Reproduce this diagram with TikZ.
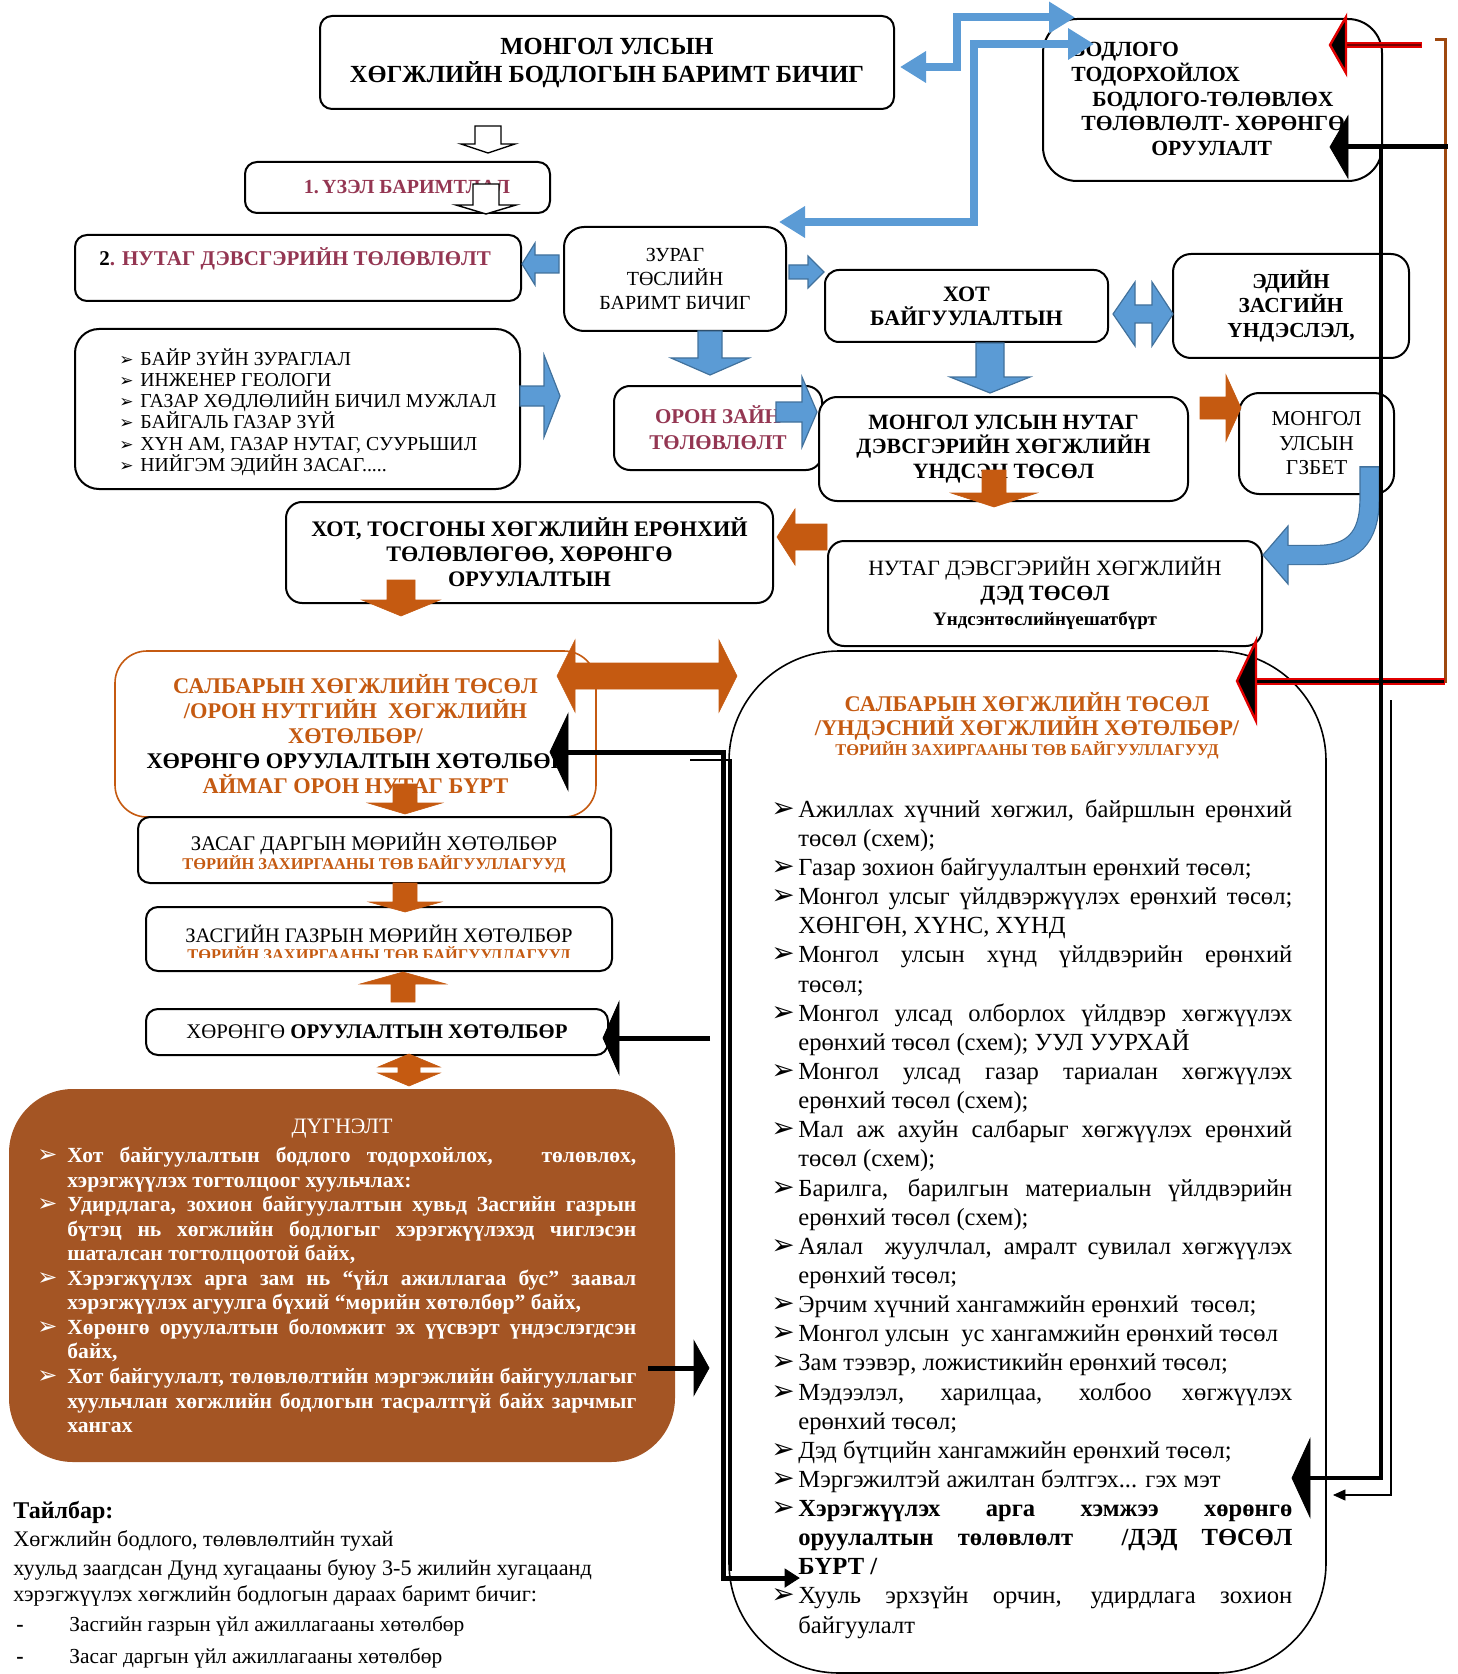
\documentclass[tikz,border=0pt]{standalone}
\usepackage{fontspec}
\setmainfont{Liberation Serif}
\newfontfamily\symfont{DejaVu Sans}
\usetikzlibrary{arrows.meta}
\definecolor{maroon}{RGB}{148,54,82}
\definecolor{orng}{RGB}{197,90,17}
\definecolor{brownfill}{RGB}{164,85,36}
\definecolor{bluefill}{RGB}{91,155,213}
\definecolor{blueline}{RGB}{65,113,156}
\definecolor{redc}{RGB}{225,0,0}
\definecolor{bracketc}{RGB}{158,72,14}
\newcommand{\fs}[2]{\fontsize{#1}{#2}\selectfont}
% block arrows: style, tail, base, tip, axis, shaft half, head half
\newcommand{\harr}[7]{\draw[#1] (#2,#5-#6) -- (#3,#5-#6) -- (#3,#5-#7) -- (#4,#5) -- (#3,#5+#7) -- (#3,#5+#6) -- (#2,#5+#6) -- cycle;}
\newcommand{\varr}[7]{\draw[#1] (#5-#6,#2) -- (#5-#6,#3) -- (#5-#7,#3) -- (#5,#4) -- (#5+#7,#3) -- (#5+#6,#3) -- (#5+#6,#2) -- cycle;}
\newcommand{\hdarr}[8]{\draw[#1] (#2,#6) -- (#3,#6-#8) -- (#3,#6-#7) -- (#4,#6-#7) -- (#4,#6-#8) -- (#5,#6) -- (#4,#6+#8) -- (#4,#6+#7) -- (#3,#6+#7) -- (#3,#6+#8) -- cycle;}
\newcommand{\vdarr}[8]{\draw[#1] (#6,#2) -- (#6-#8,#3) -- (#6-#7,#3) -- (#6-#7,#4) -- (#6-#8,#4) -- (#6,#5) -- (#6+#8,#4) -- (#6+#7,#4) -- (#6+#7,#3) -- (#6+#8,#3) -- cycle;}
\newcommand{\tiph}[5]{\filldraw[#1] (#2,#4) -- (#3,#4-#5) -- (#3,#4+#5) -- cycle;}
% bullets and lines
\newcommand{\lstB}{\makebox[10.5pt][l]{{\symfont\fontsize{8.5}{8.5}\selectfont ➢}}}
\newcommand{\bigB}{{\symfont\fontsize{14}{14}\selectfont ➢}}
\newcommand{\bigJ}[1]{\makebox[13.5pt][l]{\bigB}\makebox[247pt][s]{#1}}
\newcommand{\bigR}[1]{\makebox[13.5pt][l]{\bigB}#1}
\newcommand{\bigCJ}[1]{\hspace*{13.5pt}\makebox[247pt][s]{#1}}
\newcommand{\bigCR}[1]{\hspace*{13.5pt}#1}
\newcommand{\dugB}{{\symfont\mdseries\fontsize{12}{12}\selectfont ➢}}
\newcommand{\dugJ}[1]{\makebox[15pt][l]{\dugB}\makebox[284.5pt][s]{#1}}
\newcommand{\dugCJ}[1]{\hspace*{15pt}\makebox[284.5pt][s]{#1}}
\newcommand{\dugCR}[1]{\hspace*{15pt}#1}
\tikzset{
  box/.style={draw=black, line width=1pt, rounded corners=6pt, fill=white, inner sep=0pt, align=center},
  txt/.style={inner sep=0pt},
  blk/.style={fill=bluefill, draw=blueline, line width=0.6pt},
  org/.style={fill=orng, draw=orng, line width=0.3pt},
  wht/.style={fill=white, draw=black, line width=0.7pt},
  bluecon/.style={draw=bluefill, line width=4pt, {Triangle[length=13pt,width=15pt]}-{Triangle[length=13pt,width=15pt]}},
}
\begin{document}
\begin{tikzpicture}[x=0.5pt,y=-0.5pt]
\useasboundingbox (0,0) rectangle (1457,1674);

% ---------- boxes ----------
\node[box, minimum width=287pt, minimum height=46.5pt, font=\bfseries\fs{12.3}{14}] (top) at (607,62.5) {МОНГОЛ УЛСЫН\\ХӨГЖЛИЙН БОДЛОГЫН БАРИМТ БИЧИГ};

\node[box, rounded corners=17pt, minimum width=169.5pt, minimum height=81pt] (bodlogo) at (1212.5,100) {};
\node[txt, anchor=west, align=left, font=\bfseries\fs{10.8}{12.3}] (bodtxt) at (1071,99) {БОДЛОГО\\ТОДОРХОЙЛОХ\\\hspace*{10.5pt}БОДЛОГО-ТӨЛӨВЛӨХ\\\hspace*{5pt}ТӨЛӨВЛӨЛТ- ХӨРӨНГӨ\\\hspace*{40pt}ОРУУЛАЛТ};

\node[box, minimum width=152.5pt, minimum height=25.5pt, text=maroon, font=\bfseries\fs{10}{12}] (uzel) at (397.5,187.5) {\hspace*{9.5pt}1.\,ҮЗЭЛ БАРИМТЛАЛ};

\node[box, minimum width=223pt, minimum height=33pt] (nutag) at (298,268) {};
\node[txt, anchor=base west, font=\bfseries\fs{10.5}{12}] (nutagtxt) at (99,266) {2\textcolor{maroon}{. НУТАГ ДЭВСГЭРИЙН ТӨЛӨВЛӨЛТ}};

\node[box, rounded corners=10pt, minimum width=111pt, minimum height=52pt, font=\fs{10}{12}] (zurag) at (675,279) {ЗУРАГ\\ТӨСЛИЙН\\БАРИМТ БИЧИГ};

\node[box, rounded corners=12pt, minimum width=222.5pt, minimum height=80pt] (lst) at (297.5,409) {};
\node[txt, anchor=west, align=left, font=\fs{9.9}{10.65}] (lsttxt) at (119,412) {\lstB БАЙР ЗҮЙН ЗУРАГЛАЛ\\\lstB ИНЖЕНЕР ГЕОЛОГИ\\\lstB ГАЗАР ХӨДЛӨЛИЙН БИЧИЛ МУЖЛАЛ\\\lstB БАЙГАЛЬ ГАЗАР ЗҮЙ\\\lstB ХҮН АМ, ГАЗАР НУТАГ, СУУРЬШИЛ\\\lstB НИЙГЭМ ЭДИЙН ЗАСАГ.....};

\node[box, rounded corners=8pt, minimum width=104pt, minimum height=42pt, text=maroon, font=\bfseries\fs{10.5}{13}] (oron) at (718,428) {ОРОН ЗАЙН\\ТӨЛӨВЛӨЛТ};

\node[box, rounded corners=7pt, minimum width=141.5pt, minimum height=36pt, font=\bfseries\fs{11}{12}] (hot) at (966.5,306) {ХОТ\\БАЙГУУЛАЛТЫН};

\node[box, rounded corners=9pt, minimum width=118pt, minimum height=52pt, font=\bfseries\fs{10.7}{12.25}] (ediin) at (1291,306) {ЭДИЙН\\ЗАСГИЙН\\ҮНДЭСЛЭЛ,};

\node[box, rounded corners=9pt, minimum width=184.5pt, minimum height=52pt, font=\bfseries\fs{10.9}{12.25}] (undsen) at (1003.5,449) {МОНГОЛ УЛСЫН НУТАГ\\ДЭВСГЭРИЙН ХӨГЖЛИЙН\\ҮНДСЭН ТӨСӨЛ};

\node[box, rounded corners=10pt, minimum width=77.5pt, minimum height=50.5pt, font=\fs{10.6}{12.25}] (gzbet) at (1316.5,443.5) {МОНГОЛ\\УЛСЫН\\ГЗБЕТ};

\node[box, rounded corners=8pt, minimum width=217pt, minimum height=52.5pt, font=\fs{10.9}{12.5}] (ded) at (1045,593.5) {НУТАГ ДЭВСГЭРИЙН ХӨГЖЛИЙН\\\textbf{ДЭД ТӨСӨЛ}\\{\bfseries\fs{9.5}{12.5}Үндсэнтөслийнүешатбүрт}};

\node[box, rounded corners=8pt, minimum width=243.5pt, minimum height=50.5pt, font=\bfseries\fs{11.1}{12.5}] (tosgon) at (529.5,552.5) {ХОТ, ТОСГОНЫ ХӨГЖЛИЙН ЕРӨНХИЙ\\ТӨЛӨВЛӨГӨӨ, ХӨРӨНГӨ\\ОРУУЛАЛТЫН};

\node[box, draw=orng, line width=0.8pt, rounded corners=16pt, minimum width=240.5pt, minimum height=83pt, text=orng, font=\bfseries\fs{11.2}{12.5}] (salbar) at (355.5,734) {САЛБАРЫН ХӨГЖЛИЙН ТӨСӨЛ\\/ОРОН НУТГИЙН\ \ ХӨГЖЛИЙН\\ХӨТӨЛБӨР/\\\textcolor{black}{ХӨРӨНГӨ ОРУУЛАЛТЫН ХӨТӨЛБӨР}\\АЙМАГ ОРОН НУТАГ БҮРТ};

\node[box, minimum width=236.5pt, minimum height=33pt] (zasag) at (374.5,850) {};
\node[txt, anchor=base, font=\fs{10.4}{12}] (zasag1) at (374,850) {ЗАСАГ ДАРГЫН МӨРИЙН ХӨТӨЛБӨР};
\node[txt, anchor=base, text=orng, font=\bfseries\fs{8.2}{10}] (zasag2) at (374,869) {ТӨРИЙН ЗАХИРГААНЫ ТӨВ БАЙГУУЛЛАГУУД};

\node[box, minimum width=233pt, minimum height=32pt] (zasgiin) at (379,939) {};
\node[txt, anchor=base, font=\fs{10.3}{12}] (zasgiin1) at (379,942) {ЗАСГИЙН ГАЗРЫН МӨРИЙН ХӨТӨЛБӨР};
\begin{scope}
\clip (146,907) rectangle (612,957);
\node[txt, anchor=base, text=orng, font=\bfseries\fs{8.2}{10}] (zasgiin2) at (379,960) {ТӨРИЙН ЗАХИРГААНЫ ТӨВ БАЙГУУЛЛАГУУД};
\end{scope}

\node[box, minimum width=231pt, minimum height=23pt, font=\fs{10.4}{12}] (horongo) at (377,1032) {ХӨРӨНГӨ \textbf{ОРУУЛАЛТЫН ХӨТӨЛБӨР}};

% big right box
\node[draw=black, line width=0.8pt, rounded corners=55pt, minimum width=298.5pt, minimum height=511pt, inner sep=0pt] (big) at (1027.5,1162) {};
\node[txt, anchor=base, text=orng, font=\bfseries\fs{11.2}{12}] (bt1) at (1027,711) {САЛБАРЫН ХӨГЖЛИЙН ТӨСӨЛ};
\node[txt, anchor=base, text=orng, font=\bfseries\fs{11.2}{12}] (bt2) at (1027,735) {/ҮНДЭСНИЙ ХӨГЖЛИЙН ХӨТӨЛБӨР/};
\node[txt, anchor=base, text=orng, font=\bfseries\fs{8.2}{10}] (bt3) at (1027,755) {ТӨРИЙН ЗАХИРГААНЫ ТӨВ БАЙГУУЛЛАГУУД};
\node[txt, anchor=west, align=left, font=\fs{12.3}{14.57}] (biglist) at (771,1219) {%
\bigJ{Ажиллах хүчний хөгжил, байршлын ерөнхий}\\
\bigCR{төсөл (схем);}\\
\bigR{Газар зохион байгуулалтын ерөнхий төсөл;}\\
\bigJ{Монгол улсыг үйлдвэржүүлэх ерөнхий төсөл;}\\
\bigCR{ХӨНГӨН, ХҮНС, ХҮНД}\\
\bigJ{Монгол улсын хүнд үйлдвэрийн ерөнхий}\\
\bigCR{төсөл;}\\
\bigJ{Монгол улсад олборлох үйлдвэр хөгжүүлэх}\\
\bigCR{ерөнхий төсөл (схем); УУЛ УУРХАЙ}\\
\bigJ{Монгол улсад газар тариалан хөгжүүлэх}\\
\bigCR{ерөнхий төсөл (схем);}\\
\bigJ{Мал аж ахуйн салбарыг хөгжүүлэх ерөнхий}\\
\bigCR{төсөл (схем);}\\
\bigJ{Барилга, барилгын материалын үйлдвэрийн}\\
\bigCR{ерөнхий төсөл (схем);}\\
\bigJ{Аялал\ \ жуулчлал, амралт сувилал хөгжүүлэх}\\
\bigCR{ерөнхий төсөл;}\\
\bigR{Эрчим хүчний хангамжийн ерөнхий\ \ төсөл;}\\
\bigR{Монгол улсын\ \ ус хангамжийн ерөнхий төсөл}\\
\bigR{Зам тээвэр, ложистикийн ерөнхий төсөл;}\\
\bigJ{Мэдээлэл, харилцаа, холбоо хөгжүүлэх}\\
\bigCR{ерөнхий төсөл;}\\
\bigR{Дэд бүтцийн хангамжийн ерөнхий төсөл;}\\
\bigR{Мэргэжилтэй ажилтан бэлтгэх... гэх мэт}\\
\bigJ{\textbf{Хэрэгжүүлэх арга хэмжээ хөрөнгө}}\\
\bigCJ{\textbf{оруулалтын төлөвлөлт\ \ /ДЭД ТӨСӨЛ}}\\
\bigCR{\textbf{БҮРТ /}}\\
\bigJ{Хууль эрхзүйн орчин, удирдлага зохион}\\
\bigCR{байгуулалт}};

% brown conclusion box
\node[fill=brownfill, draw=none, rounded corners=32pt, minimum width=333pt, minimum height=186.5pt, inner sep=0pt] (dugnelt) at (342,1275.5) {};
\node[txt, text=white, font=\fs{11}{12}] (dugtitle) at (342,1129) {ДҮГНЭЛТ};
\node[txt, anchor=west, align=left, text=white, font=\bfseries\fs{10.8}{12.27}] (duglist) at (37,1290) {%
\dugJ{Хот байгуулалтын бодлого тодорхойлох,\ \ \ төлөвлөх,}\\
\dugCR{хэрэгжүүлэх тогтолцоог хуульчлах:}\\
\dugJ{Удирдлага, зохион байгуулалтын хувьд Засгийн газрын}\\
\dugCJ{бүтэц нь хөгжлийн бодлогыг хэрэгжүүлэхэд чиглэсэн}\\
\dugCR{шаталсан тогтолцоотой байх,}\\
\dugJ{Хэрэгжүүлэх арга зам нь “үйл ажиллагаа бус” заавал}\\
\dugCR{хэрэгжүүлэх агуулга бүхий “мөрийн хөтөлбөр” байх,}\\
\dugJ{Хөрөнгө оруулалтын боломжит эх үүсвэрт үндэслэгдсэн}\\
\dugCR{байх,}\\
\dugJ{Хот байгуулалт, төлөвлөлтийн мэргэжлийн байгууллагыг}\\
\dugCJ{хуульчлан хөгжлийн бодлогын тасралтгүй байх зарчмыг}\\
\dugCR{хангах}};

% legend
\node[txt, anchor=base west, font=\bfseries\fs{12}{14}] (leg0) at (13,1518) {Тайлбар:};
\node[txt, anchor=base west, font=\fs{11.1}{13}] (leg1) at (13,1546) {Хөгжлийн бодлого, төлөвлөлтийн тухай};
\node[txt, anchor=base west, font=\fs{11.1}{13}] (leg2) at (13,1575) {хуульд заагдсан Дунд хугацааны буюу 3-5 жилийн хугацаанд};
\node[txt, anchor=base west, font=\fs{11.1}{13}] (leg3) at (13,1601) {хэрэгжүүлэх хөгжлийн бодлогын дараах баримт бичиг:};
\node[txt, anchor=base west, font=\bfseries\fs{11}{13}] (legd1) at (16,1631) {-};
\node[txt, anchor=base west, font=\fs{10.7}{13}] (leg4) at (69,1631) {Засгийн газрын үйл ажиллагааны хөтөлбөр};
\node[txt, anchor=base west, font=\bfseries\fs{11}{13}] (legd2) at (16,1663) {-};
\node[txt, anchor=base west, font=\fs{10.7}{13}] (leg5) at (69,1663) {Засаг даргын үйл ажиллагааны хөтөлбөр};

% ---------- block arrows ----------
\varr{wht}{126}{144}{153}{488}{13}{27}
\varr{wht}{184}{205}{214}{486}{13}{30}

\harr{blk}{559}{535}{522}{264}{9}{21}
\harr{blk}{789}{808}{824}{272}{7}{16}
\varr{blk}{331}{358}{375}{710}{12}{39}
\harr{blk}{520}{544}{560}{396}{10}{41}
\harr{blk}{776}{802}{817}{412}{10}{35}
\varr{blk}{343}{377}{393}{990}{14}{40}
\hdarr{blk}{1113}{1135}{1152}{1173}{314}{9}{32}

% curved blue arrow
\draw[blueline, line width=10.2pt] (1369.5,466) -- (1369.5,500) .. controls (1369.5,538) and (1352,555) .. (1317,555) -- (1288,555);
\tiph{blk}{1263}{1288}{555}{29}
\draw[bluefill, line width=9pt] (1369.5,467.5) -- (1369.5,500) .. controls (1369.5,538) and (1352,555) .. (1317,555) -- (1285,555);

\varr{org}{470}{493}{507}{994}{12}{43}
\harr{org}{1200}{1226}{1241}{408}{11}{33}
\harr{org}{827}{795}{777}{537}{13}{28}
\varr{org}{580}{600}{616}{401}{14}{39}
\hdarr{org}{557}{575}{719}{737}{676}{13}{36}
\varr{org}{784}{803}{814}{405}{12}{37}
\varr{org}{883}{902}{912}{405}{12}{36}
\varr{org}{1002}{984}{972}{403}{12}{43}
\vdarr{org}{1054}{1067}{1073}{1086}{409}{11}{31}

% ---------- line connectors ----------
\draw[bluecon] (900,67) -- (957,67) -- (957,17.5) -- (1075,17.5);
\draw[bluecon] (779,222) -- (974,222) -- (974,44) -- (1094,44);

% brown bracket and red arrows
\draw[bracketc, line width=1.5pt] (1435,40) -- (1445,40) -- (1445,683);
\draw[redc, line width=3pt] (1422,45) -- (1344,45);
\draw[red!45!black, line width=1pt] (1421,45) -- (1344,45);
\tiph{fill=black, draw=redc, line width=1.2pt}{1330}{1346}{45}{28}
\draw[redc, line width=3.5pt] (1445,681) -- (1254,681);
\draw[black, line width=1.5pt] (1444,681) -- (1254,681);
\tiph{fill=black, draw=redc, line width=1.2pt}{1237}{1256}{681}{40}

% black connectors right
\draw[line width=2.5pt] (1448,147) -- (1346,147);
\tiph{fill=black}{1330}{1348}{147}{31}
\draw[line width=2pt] (1381,147) -- (1381,1478) -- (1308,1478);
\tiph{fill=black}{1292}{1310}{1478}{39}
\draw[line width=1pt] (1391,700) -- (1391,1495) -- (1344,1495);
\tiph{fill=black}{1334}{1345}{1495}{5}

% black connectors left
\draw[line width=2.5pt] (566,752) -- (723,752) -- (723,1578) -- (787,1578);
\tiph{fill=black}{550}{568}{752}{38}
\tiph{fill=black}{799}{785}{1578}{9}
\draw[line width=0.9pt] (690,760) -- (731,760) -- (731,1571);
\draw[line width=2.5pt] (710,1038) -- (617,1038);
\tiph{fill=black}{603}{619}{1038}{36}
\draw[line width=2.5pt] (648,1368) -- (696,1368);
\tiph{fill=black}{709}{694}{1368}{27}
\end{tikzpicture}
\end{document}
